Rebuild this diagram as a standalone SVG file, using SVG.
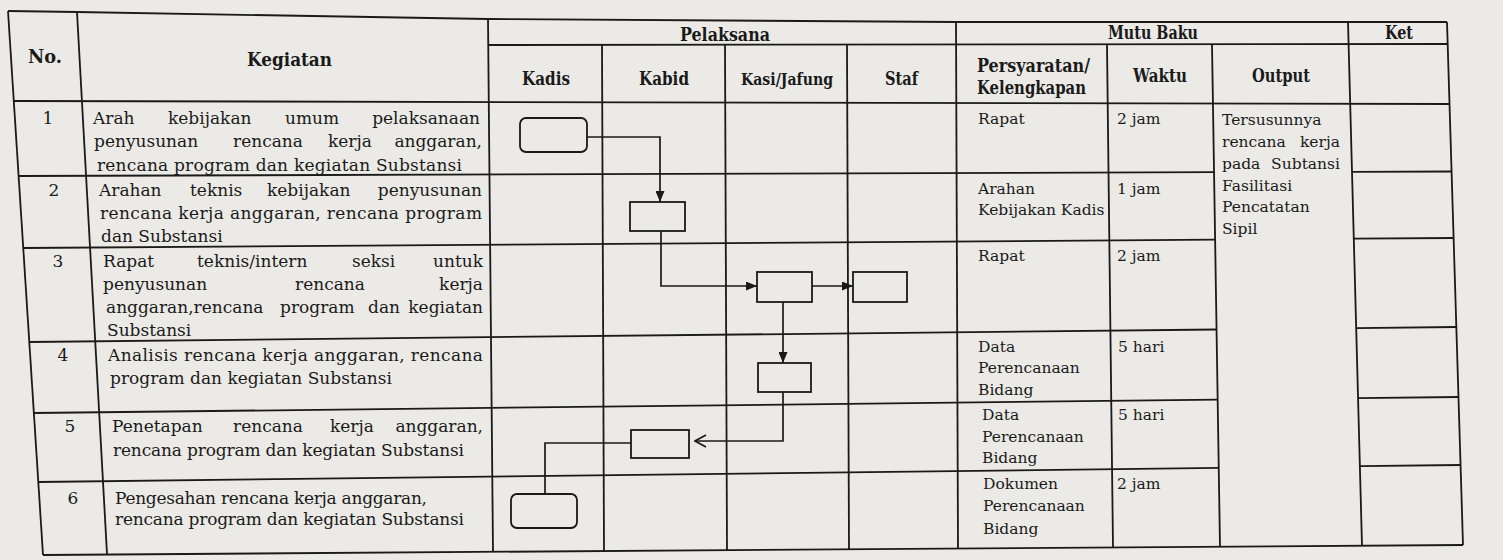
<svg xmlns="http://www.w3.org/2000/svg" width="1503" height="560" viewBox="0 0 1503 560">
<style>
.t{font-family:"DejaVu Serif","Liberation Serif",serif;font-size:17px;fill:#1a1a1a}
.r{font-size:15.5px}
.b{font-weight:bold;font-size:18px}
.s{font-size:16px}
.c{text-anchor:middle}
.ln{stroke:#1a1a1a;stroke-width:1.8;fill:none}
.node rect{fill:none;stroke:#1a1a1a;stroke-width:1.8}
.cn path{fill:none;stroke:#1a1a1a;stroke-width:1.7}
</style>
<defs>
<marker id="arr" viewBox="0 0 11 9" refX="11" refY="4.5" markerWidth="11" markerHeight="9" markerUnits="userSpaceOnUse" orient="auto"><path d="M0,0 L11,4.5 L0,9 z" fill="#1a1a1a"/></marker>
<marker id="open" viewBox="0 0 13 14" refX="12" refY="7" markerWidth="13" markerHeight="14" markerUnits="userSpaceOnUse" orient="auto"><path d="M1,1 L12,7 L1,13" fill="none" stroke="#1a1a1a" stroke-width="1.7"/></marker>
</defs>
<rect x="0" y="0" width="1503" height="560" fill="#eceae6"/>
<g id="table" class="ln">
<polyline points="8,11 77,12 488,19 956,22 1348,22 1447,22"/>
<line x1="8" y1="11" x2="43" y2="555"/>
<line x1="77" y1="12" x2="107" y2="554"/>
<line x1="488" y1="19" x2="493" y2="552"/>
<line x1="602" y1="45" x2="604" y2="551"/>
<line x1="725" y1="45" x2="727" y2="550"/>
<line x1="847" y1="45" x2="849" y2="549"/>
<line x1="956" y1="22" x2="958" y2="548.5"/>
<line x1="1107" y1="45" x2="1113" y2="547.5"/>
<line x1="1212" y1="44" x2="1220" y2="546.7"/>
<line x1="1348" y1="22" x2="1362" y2="545.7"/>
<line x1="1447" y1="22" x2="1463" y2="545"/>
<line x1="488" y1="45" x2="1448" y2="44"/>
<line x1="13.8" y1="101" x2="1449.5" y2="104"/>
<line x1="18.6" y1="176" x2="1214" y2="172.2"/>
<line x1="1352" y1="171.8" x2="1451.6" y2="171.5"/>
<line x1="23.2" y1="248" x2="1215.1" y2="239.7"/>
<line x1="1353.8" y1="238.7" x2="1453.6" y2="238"/>
<line x1="29.3" y1="342" x2="1216.6" y2="329.5"/>
<line x1="1356.2" y1="328.1" x2="1456.3" y2="327"/>
<line x1="33.9" y1="413" x2="1217.7" y2="399.7"/>
<line x1="1358.1" y1="398.1" x2="1458.5" y2="397"/>
<line x1="38.3" y1="482" x2="1218.7" y2="467.9"/>
<line x1="1359.9" y1="466.2" x2="1460.6" y2="465"/>
<line x1="43" y1="555" x2="1463" y2="545"/>
</g>
<g id="header" class="t b">
<text x="28" y="63" textLength="34" lengthAdjust="spacingAndGlyphs">No.</text>
<text x="247" y="66" textLength="85" lengthAdjust="spacingAndGlyphs">Kegiatan</text>
<text x="680" y="41" textLength="90" lengthAdjust="spacingAndGlyphs">Pelaksana</text>
<text x="522" y="85" textLength="48" lengthAdjust="spacingAndGlyphs">Kadis</text>
<text x="639" y="85" textLength="50" lengthAdjust="spacingAndGlyphs">Kabid</text>
<text class="s" x="741" y="85" textLength="92" lengthAdjust="spacingAndGlyphs">Kasi/Jafung</text>
<text x="885" y="85" textLength="33" lengthAdjust="spacingAndGlyphs">Staf</text>
<text x="1108" y="39" textLength="90" lengthAdjust="spacingAndGlyphs">Mutu Baku</text>
<text x="1385" y="39" textLength="28" lengthAdjust="spacingAndGlyphs">Ket</text>
<text x="977" y="72" textLength="113" lengthAdjust="spacingAndGlyphs">Persyaratan/</text>
<text x="977" y="94" textLength="109" lengthAdjust="spacingAndGlyphs">Kelengkapan</text>
<text x="1133" y="82" textLength="54" lengthAdjust="spacingAndGlyphs">Waktu</text>
<text x="1252" y="82" textLength="58" lengthAdjust="spacingAndGlyphs">Output</text>
</g>
<g id="kegiatan" class="t">
<text class="c" x="48" y="124">1</text>
<text y="124"><tspan x="93">Arah</tspan><tspan x="168">kebijakan</tspan><tspan x="285">umum</tspan><tspan x="480" text-anchor="end">pelaksanaan</tspan></text>
<text y="147"><tspan x="94">penyusunan</tspan><tspan x="233">rencana</tspan><tspan x="328">kerja</tspan><tspan x="482" text-anchor="end">anggaran,</tspan></text>
<text x="97" y="171" textLength="365" lengthAdjust="spacing">rencana program dan kegiatan Substansi</text>
<text class="c" x="54" y="196">2</text>
<text y="196"><tspan x="99">Arahan</tspan><tspan x="190">teknis</tspan><tspan x="267">kebijakan</tspan><tspan x="482" text-anchor="end">penyusunan</tspan></text>
<text x="100" y="219" textLength="382" lengthAdjust="spacing">rencana kerja anggaran, rencana program</text>
<text x="101" y="242">dan Substansi</text>
<text class="c" x="58" y="267">3</text>
<text y="267"><tspan x="103">Rapat</tspan><tspan x="197">teknis/intern</tspan><tspan x="352">seksi</tspan><tspan x="483" text-anchor="end">untuk</tspan></text>
<text y="290"><tspan x="103">penyusunan</tspan><tspan x="295">rencana</tspan><tspan x="483" text-anchor="end">kerja</tspan></text>
<text y="313"><tspan x="106">anggaran,rencana</tspan><tspan x="280">program</tspan><tspan x="368">dan</tspan><tspan x="483" text-anchor="end">kegiatan</tspan></text>
<text x="107" y="336">Substansi</text>
<text class="c" x="63" y="361">4</text>
<text x="108" y="361" textLength="375" lengthAdjust="spacing">Analisis rencana kerja anggaran, rencana</text>
<text x="110" y="384" textLength="282" lengthAdjust="spacing">program dan kegiatan Substansi</text>
<text class="c" x="70" y="432">5</text>
<text y="432"><tspan x="112">Penetapan</tspan><tspan x="233">rencana</tspan><tspan x="330">kerja</tspan><tspan x="483" text-anchor="end">anggaran,</tspan></text>
<text x="113" y="456" textLength="351" lengthAdjust="spacing">rencana program dan kegiatan Substansi</text>
<text class="c" x="73" y="504">6</text>
<text x="115" y="504" textLength="312" lengthAdjust="spacing">Pengesahan rencana kerja anggaran,</text>
<text x="115" y="525" textLength="349" lengthAdjust="spacing">rencana program dan kegiatan Substansi</text>
</g>
<g id="mutu" class="t r">
<text x="978" y="124">Rapat</text>
<text x="1117" y="124">2 jam</text>
<text x="978" y="194">Arahan</text>
<text x="978" y="215">Kebijakan Kadis</text>
<text x="1117" y="194">1 jam</text>
<text x="978" y="261">Rapat</text>
<text x="1117" y="261">2 jam</text>
<text x="978" y="352">Data</text>
<text x="978" y="373">Perencanaan</text>
<text x="978" y="395">Bidang</text>
<text x="1118" y="352">5 hari</text>
<text x="982" y="420">Data</text>
<text x="982" y="442">Perencanaan</text>
<text x="982" y="463">Bidang</text>
<text x="1118" y="420">5 hari</text>
<text x="983" y="489">Dokumen</text>
<text x="983" y="511">Perencanaan</text>
<text x="983" y="534">Bidang</text>
<text x="1117" y="489">2 jam</text>
<text x="1222" y="125">Tersusunnya</text>
<text y="147"><tspan x="1222">rencana</tspan><tspan x="1340" text-anchor="end">kerja</tspan></text>
<text y="169"><tspan x="1222">pada</tspan><tspan x="1340" text-anchor="end">Subtansi</tspan></text>
<text x="1222" y="191">Fasilitasi</text>
<text x="1222" y="212">Pencatatan</text>
<text x="1222" y="234">Sipil</text>
</g>
<g id="nodes" class="node">
<g id="node-1-kadis"><rect x="520" y="118" width="67" height="34" rx="6"/></g>
<g id="node-2-kabid"><rect x="630" y="202" width="55" height="29"/></g>
<g id="node-3-kasi"><rect x="757" y="272" width="55" height="30"/></g>
<g id="node-3-staf"><rect x="853" y="272" width="54" height="30"/></g>
<g id="node-4-kasi"><rect x="758" y="363" width="53" height="29"/></g>
<g id="node-5-kabid"><rect x="631" y="430" width="58" height="28"/></g>
<g id="node-6-kadis"><rect x="511" y="494" width="66" height="34" rx="6"/></g>
</g>
<g id="connectors" class="cn">
<path d="M587,137 H660 V202" marker-end="url(#arr)"/>
<path d="M661,231 V286 H757" marker-end="url(#arr)"/>
<path d="M812,286 H853" marker-end="url(#arr)"/>
<path d="M783,302 V363" marker-end="url(#arr)"/>
<path d="M783,392 V441 H695" marker-end="url(#open)"/>
<path d="M631,443 H545 V494"/>
</g>
</svg>
